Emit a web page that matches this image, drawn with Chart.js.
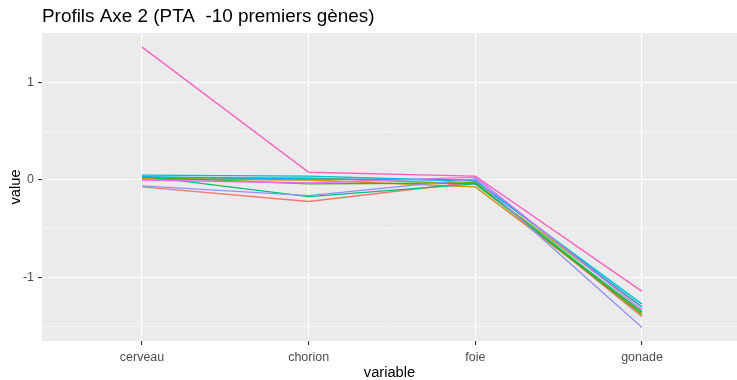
<!DOCTYPE html>
<html>
<head>
<meta charset="utf-8">
<script src="https://cdn.jsdelivr.net/npm/chart.js@4.4.1/dist/chart.umd.min.js"></script>
<style>
  html, body { margin: 0; padding: 0; background: #fff; }
  #wrap { width: 737px; height: 380px; position: relative; }
</style>
</head>
<body>
<div id="wrap"><canvas id="profils"></canvas></div>
<script>
// Data (Axe 2, 10 genes, 4 tissues)
const variables = ['cerveau', 'chorion', 'foie', 'gonade'];
const yTicks = [-1.5, -1, -0.5, 0, 0.5, 1];

const gene01 = [-0.07, -0.22, -0.02, -1.40];
const gene02 = [0.01, 0.00, -0.07, -1.36];
const gene03 = [0.02, 0.02, -0.04, -1.30];
const gene04 = [0.03, -0.04, -0.03, -1.38];
const gene05 = [0.04, -0.17, -0.04, -1.35];
const gene06 = [0.05, 0.04, -0.01, -1.27];
const gene07 = [0.035, 0.01, 0.00, -1.30];
const gene08 = [-0.06, -0.16, 0.01, -1.51];
const gene09 = [0.00, -0.03, 0.03, -1.33];
const gene10 = [1.36, 0.08, 0.04, -1.14];

const genes = [gene01, gene02, gene03, gene04, gene05, gene06, gene07, gene08, gene09, gene10];
// ggplot default hue palette for 10 groups
const colors = ['#F8766D', '#D89000', '#A3A500', '#39B600', '#00BF7D',
                '#00BFC4', '#00B0F6', '#9590FF', '#E76BF3', '#FF62BC'];

const datasets = genes.map((vals, i) => ({
    label: 'gene ' + (i + 1),
    data: vals.map((v, j) => ({ x: j, y: v })),
    borderColor: colors[i],
    borderWidth: 1.4,
    pointRadius: 0,
    fill: false,
    tension: 0,
    order: genes.length - i // later genes on top, like ggplot
}));

// panel background + title, ggplot style
const ggPanel = {
    id: 'ggPanel',
    beforeDraw(chart) {
        const { ctx, chartArea: a } = chart;
        ctx.save();
        ctx.fillStyle = '#fff';
        ctx.fillRect(0, 0, chart.width, chart.height);
        ctx.fillStyle = '#EBEBEB';
        ctx.fillRect(a.left, a.top, a.right - a.left, a.bottom - a.top);
        ctx.restore();
    },
    afterDraw(chart) {
        const { ctx, chartArea: a } = chart;
        ctx.save();
        ctx.fillStyle = '#000';
        ctx.font = '18.9px "Liberation Sans", Arial, sans-serif';
        ctx.textBaseline = 'alphabetic';
        ctx.textAlign = 'left';
        ctx.fillText('Profils Axe 2 (PTA  -10 premiers gènes)', a.left, 22);
        ctx.restore();
    }
};

const isMajor = v => Math.abs(v - Math.round(v)) < 1e-6;

new Chart(document.getElementById('profils'), {
    type: 'line',
    data: { datasets },
    plugins: [ggPanel],
    options: {
        responsive: true,
        maintainAspectRatio: false,
        animation: false,
        layout: { padding: { top: 33, left: 0, right: 0, bottom: 0 } },
        plugins: {
            legend: { display: false },
            tooltip: { enabled: false }
        },
        scales: {
            x: {
                type: 'linear',
                min: -0.6,
                max: 3.57,
                afterBuildTicks: s => { s.ticks = variables.map((_, i) => ({ value: i })); },
                afterFit: s => { s.height = 39; },
                border: { display: false },
                grid: { color: '#fff', lineWidth: 1.1, tickColor: '#333', tickLength: 4 },
                ticks: {
                    color: '#4D4D4D',
                    font: { family: '"Liberation Sans", Arial, sans-serif', size: 12.5 },
                    padding: 5,
                    maxRotation: 0,
                    callback: v => variables[v]
                },
                title: {
                    display: true,
                    text: 'variable',
                    color: '#000',
                    font: { family: '"Liberation Sans", Arial, sans-serif', size: 14.7 },
                    padding: { top: 0, bottom: -2 }
                }
            },
            y: {
                min: -1.648,
                max: 1.505,
                afterBuildTicks: s => { s.ticks = yTicks.map(v => ({ value: v })); },
                afterFit: s => { s.width = 42; },
                border: { display: false },
                grid: {
                    color: '#fff',
                    lineWidth: c => isMajor(c.tick.value) ? 1.1 : 0.55,
                    tickColor: c => isMajor(c.tick.value) ? '#333' : 'rgba(0,0,0,0)',
                    tickLength: 4
                },
                ticks: {
                    color: '#4D4D4D',
                    font: { family: '"Liberation Sans", Arial, sans-serif', size: 12.5 },
                    padding: 4,
                    callback: v => isMajor(v) ? String(Math.round(v)) : ''
                },
                title: {
                    display: true,
                    text: 'value',
                    color: '#000',
                    font: { family: '"Liberation Sans", Arial, sans-serif', size: 14.7 },
                    padding: { top: 7, bottom: 0 }
                }
            }
        }
    }
});
</script>
</body>
</html>
